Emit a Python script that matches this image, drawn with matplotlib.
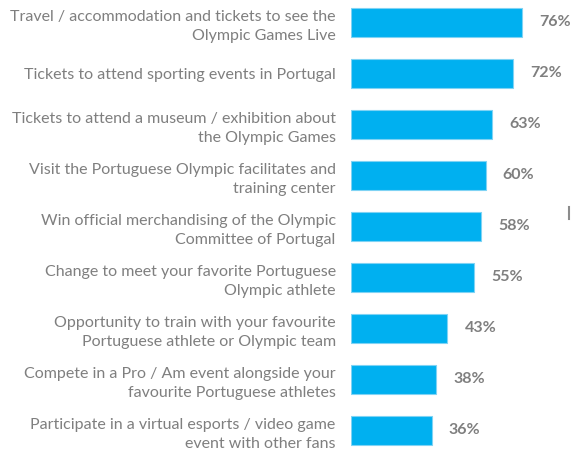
import matplotlib.pyplot as plt

# Interest in each activity / offer (% of respondents)
labels = [
    "Travel / accommodation and tickets to see the\nOlympic Games Live",
    "Tickets to attend sporting events in Portugal",
    "Tickets to attend a museum / exhibition about\nthe Olympic Games",
    "Visit the Portuguese Olympic facilitates and\ntraining center",
    "Win official merchandising of the Olympic\nCommittee of Portugal",
    "Change to meet your favorite Portuguese\nOlympic athlete",
    "Opportunity to train with your favourite\nPortuguese athlete or Olympic team",
    "Compete in a Pro / Am event alongside your\nfavourite Portuguese athletes",
    "Participate in a virtual esports / video game\nevent with other fans",
]
values = [76, 72, 63, 60, 58, 55, 43, 38, 36]

BAR_COLOR = "#00B0F0"
TEXT_COLOR = "#7F7F7F"

plt.rcParams['font.family'] = ['Lato', 'DejaVu Sans']

fig = plt.figure(figsize=(5.72, 4.51), dpi=100)
ax = fig.add_axes([350.7 / 572, 0, 225 / 572, 1])

pos = list(range(len(values)))
ax.barh(pos, values, height=0.57, color=BAR_COLOR, edgecolor="#7FD3F4", linewidth=0.8)

ax.set_xlim(0, 100)
ax.set_ylim(8.41, -0.44)

ax.set_yticks(pos)
ax.set_yticklabels(labels, fontsize=11.5, color=TEXT_COLOR, linespacing=1.45)
ax.tick_params(axis='y', length=0, pad=10.8)
ax.set_xticks([])

# value labels to the right of each bar
for y, v in zip(pos, values):
    ax.text(v + 7.6, y, f"{v}%", va='center', ha='left', fontsize=11.5,
            fontweight='bold', color=TEXT_COLOR)

for s in ax.spines.values():
    s.set_visible(False)

# small gray mark at the right edge
fig.add_artist(plt.Line2D([569 / 572, 569 / 572], [1 - 207 / 451, 1 - 219 / 451],
                          color="#8C8C8C", linewidth=1.5))

fig.savefig("out.png", dpi=100)
